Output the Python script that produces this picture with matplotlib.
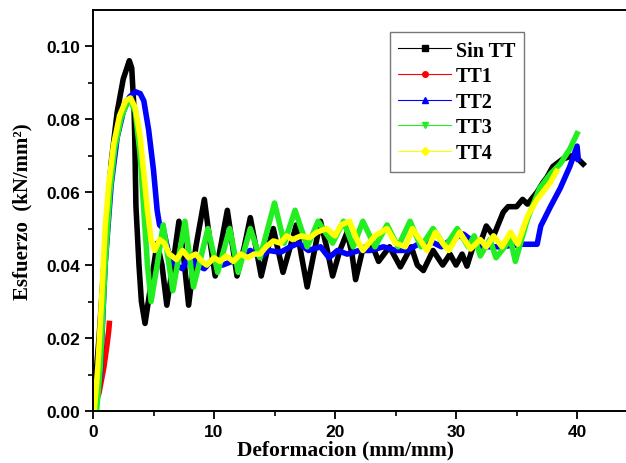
import matplotlib
matplotlib.use("Agg")
import matplotlib.pyplot as plt
from matplotlib.lines import Line2D
from matplotlib.ticker import MultipleLocator, FormatStrFormatter

# Sin TT (black)
sin_x = [0, 0.5, 1.0, 1.5, 2.0, 2.5, 3.0, 3.2, 3.3, 3.4, 3.45, 3.5, 3.55, 3.8, 4.0, 4.3,
         4.8, 5.3, 5.7, 6.1, 6.6, 7.1, 7.5, 7.9, 8.5, 9.2, 9.6, 10.1, 10.6, 11.1, 11.5, 11.9,
         12.5, 13.0, 13.4, 13.9, 14.4, 14.9, 15.3, 15.7, 16.3, 16.8, 17.2, 17.7, 18.3, 18.8,
         19.3, 19.8, 20.4, 21.0, 21.4, 21.7, 22.3, 23.0, 23.6, 24.5, 25.4, 26.3, 26.8, 27.3,
         28.1, 28.9, 29.5, 30.0, 30.5, 30.9, 31.4, 32.0, 32.5, 33.1, 33.9, 34.3, 35.0, 35.5,
         35.9, 36.7, 37.2, 37.5, 38.0, 38.8, 39.6, 40.1, 40.5]
sin_y = [0, 0.02, 0.045, 0.068, 0.082, 0.091, 0.096, 0.094, 0.088, 0.082, 0.075, 0.065, 0.056, 0.040, 0.030, 0.024,
         0.035, 0.046, 0.040, 0.029, 0.040, 0.052, 0.042, 0.029, 0.045, 0.058, 0.048, 0.037, 0.046, 0.055, 0.046, 0.037,
         0.045, 0.053, 0.046, 0.037, 0.044, 0.050, 0.044, 0.038, 0.045, 0.051, 0.043, 0.034, 0.044, 0.052,
         0.045, 0.037, 0.044, 0.049, 0.043, 0.036, 0.0445, 0.046, 0.041, 0.045, 0.0395, 0.045, 0.040, 0.0385,
         0.044, 0.040, 0.043, 0.040, 0.043, 0.0397, 0.045, 0.046, 0.0507, 0.048, 0.0545, 0.056, 0.056, 0.058,
         0.0567, 0.060, 0.0627, 0.064, 0.067, 0.069, 0.070, 0.069, 0.0677]

# TT1 (red)
tt1_x = [0, 0.5, 0.9, 1.15, 1.3, 1.35]
tt1_y = [0, 0.005, 0.012, 0.018, 0.022, 0.024]

# TT2 (blue)
tt2_x = [0.2, 0.6, 1.0, 1.5, 2.0, 2.5, 3.0, 3.5, 3.9, 4.2, 4.6, 5.0, 5.3, 5.5, 5.8, 6.2, 6.8,
         7.4, 8.0, 8.5, 9.2, 10.0, 10.7, 11.5, 12.3, 13.0, 13.8, 14.5, 15.5, 16.3, 17.0, 17.8,
         18.8, 19.5, 20.2, 21.0, 22.0, 22.9, 24.0, 25.0, 26.0, 27.0, 27.9, 28.8, 29.6, 30.6,
         31.2, 32.0, 33.6, 35.5, 36.7, 37.0, 37.8, 38.6, 39.4, 40.0, 40.1]
tt2_y = [0, 0.010, 0.040, 0.062, 0.075, 0.082, 0.086, 0.0875, 0.087, 0.085, 0.077, 0.066, 0.055, 0.051, 0.050, 0.044, 0.040,
         0.039, 0.043, 0.040, 0.039, 0.042, 0.040, 0.041, 0.043, 0.044, 0.042, 0.044, 0.0435, 0.045, 0.046, 0.044,
         0.045, 0.042, 0.044, 0.043, 0.044, 0.044, 0.045, 0.044, 0.044, 0.046, 0.0465, 0.045, 0.047, 0.0485,
         0.047, 0.045, 0.045, 0.0457, 0.0457, 0.0507, 0.056, 0.061, 0.067, 0.0726, 0.069]

# TT3 (green)
tt3_x = [0.3, 0.6, 1.0, 1.4, 1.8, 2.3, 2.8, 3.1, 3.5, 3.9, 4.2, 4.5, 4.8, 5.3, 5.8, 6.6, 7.6,
         8.3, 9.5, 10.3, 11.3, 12.0, 13.0, 13.8, 15.0, 15.8, 16.7, 17.7, 18.6, 19.8, 20.7,
         21.5, 22.3, 23.3, 24.3, 25.2, 26.2, 27.1, 28.1, 29.1, 30.1, 31.0, 31.5, 32.0, 32.8,
         33.3, 34.5, 34.9, 35.5, 35.9, 36.9, 37.8, 38.6, 39.4, 40.0]
tt3_y = [0, 0.012, 0.040, 0.060, 0.072, 0.080, 0.0845, 0.085, 0.082, 0.070, 0.055, 0.040, 0.030, 0.040, 0.051, 0.033, 0.052,
         0.034, 0.050, 0.038, 0.050, 0.038, 0.050, 0.042, 0.057, 0.046, 0.055, 0.045, 0.052, 0.046, 0.052,
         0.045, 0.052, 0.045, 0.051, 0.045, 0.052, 0.045, 0.050, 0.045, 0.050, 0.045, 0.048, 0.0425, 0.047,
         0.042, 0.047, 0.041, 0.048, 0.0526, 0.061, 0.065, 0.0677, 0.0718, 0.076]

# TT4 (yellow)
tt4_x = [0.1, 0.4, 0.7, 1.0, 1.3, 1.7, 2.2, 2.7, 3.1, 3.5, 3.9, 4.2, 4.5, 4.8, 5.1, 5.5, 5.9,
         6.3, 6.9, 7.4, 7.9, 8.5, 9.0, 9.4, 10.0, 10.5, 11.0, 11.6, 12.2, 12.8, 13.3, 13.8,
         14.3, 14.9, 15.5, 16.0, 16.5, 17.2, 17.9, 18.5, 19.3, 20.0, 20.5, 21.2, 21.8, 22.3,
         23.3, 24.3, 25.0, 25.8, 26.4, 27.0, 27.6, 28.3, 28.9, 29.4, 30.3, 31.2, 32.0, 32.5,
         33.1, 33.8, 34.5, 35.1, 35.9, 36.7, 37.8, 38.3]
tt4_y = [0, 0.012, 0.030, 0.050, 0.062, 0.073, 0.081, 0.085, 0.0858, 0.083, 0.075, 0.065, 0.055, 0.047, 0.044, 0.047, 0.046,
         0.043, 0.0415, 0.044, 0.042, 0.043, 0.041, 0.040, 0.042, 0.041, 0.0425, 0.041, 0.043, 0.042, 0.043, 0.043,
         0.045, 0.0466, 0.046, 0.048, 0.047, 0.048, 0.0475, 0.049, 0.050, 0.048, 0.051, 0.052, 0.047, 0.044,
         0.048, 0.050, 0.046, 0.045, 0.050, 0.047, 0.044, 0.049, 0.046, 0.044, 0.049, 0.0444, 0.047, 0.045,
         0.048, 0.045, 0.049, 0.0457, 0.0534, 0.058, 0.0627, 0.0657]

labels = ["Sin TT", "TT1", "TT2", "TT3", "TT4"]
colors = ["black", "#ff0000", "#0000ff", "#22ee22", "#ffff00"]
markers = ["s", "o", "^", "v", "D"]

fig = plt.figure(figsize=(6.26, 4.64), dpi=100)
ax = fig.add_axes([93 / 626, 52 / 464, (640 - 93) / 626, 401 / 464])

series = [(sin_x, sin_y), (tt1_x, tt1_y), (tt2_x, tt2_y), (tt3_x, tt3_y), (tt4_x, tt4_y)]
for (x, y), c in zip(series, colors):
    ax.plot(x, y, color=c, lw=4.0, solid_joinstyle="round")

ax.set_xlim(0, 45.2)
ax.set_ylim(0, 0.1099)
ax.xaxis.set_major_locator(MultipleLocator(10))
ax.xaxis.set_minor_locator(MultipleLocator(5))
ax.yaxis.set_major_locator(MultipleLocator(0.02))
ax.yaxis.set_minor_locator(MultipleLocator(0.01))
ax.yaxis.set_major_formatter(FormatStrFormatter("%.2f"))
ax.tick_params(which="major", length=6, width=1.3, direction="out")
ax.tick_params(which="minor", length=3.5, width=1.2, direction="out")
for lab in ax.get_xticklabels() + ax.get_yticklabels():
    lab.set_fontfamily("Liberation Sans")
    lab.set_fontweight("bold")
    lab.set_fontsize(12.5)
for s in ax.spines.values():
    s.set_linewidth(1.4)

ax.set_xlabel("Deformacion (mm/mm)", family="Liberation Serif", weight="bold", fontsize=15.5)
ax.xaxis.set_label_coords(0.461, -0.072)
ax.set_ylabel("Esfuerzo  (kN/mm²)", family="Liberation Serif", weight="bold", fontsize=15)
ax.yaxis.set_label_coords(-0.11, 0.5)

handles = [Line2D([0], [0], color=c, lw=0.8, marker=m, markersize=4) for c, m in zip(colors, markers)]
leg = ax.legend(handles, labels, loc="upper left", bbox_to_anchor=(0.543, 0.945),
                prop={"family": "Liberation Serif", "weight": "bold", "size": 14.5},
                frameon=True, fancybox=False, edgecolor="#555555", handlelength=2.6,
                labelspacing=0.28, borderpad=0.42, handletextpad=0.25, borderaxespad=0)
leg.get_frame().set_linewidth(1.0)

fig.savefig("out.png", dpi=100)
